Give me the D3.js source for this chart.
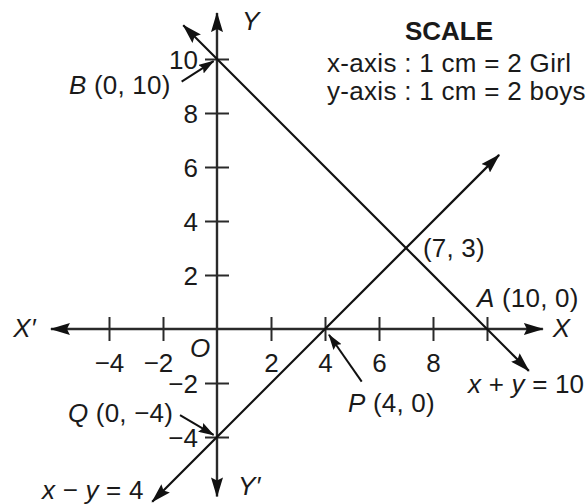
<!DOCTYPE html>
<html>
<head>
  <meta charset="utf-8" />
  <title>x + y = 10 and x - y = 4</title>
  <style>
    body { margin: 0; background: #fff; }
    #chartArea { width: 587px; height: 504px; }
    text { font-family: "Liberation Sans", Arial, sans-serif; fill: #1a1a1a; }
    .axisLine { stroke: #2a2a2a; stroke-width: 2.4px; fill: none; }
    .graphLine { stroke: #111; stroke-width: 2.2px; fill: none; }
    .pointer { stroke: #111; stroke-width: 2px; fill: none; }
  </style>
  <script src="https://cdnjs.cloudflare.com/ajax/libs/d3/7.8.5/d3.min.js"></script>
</head>
<body>
  <div id="chartArea"></div>
  <script>
    // values
    var xTicks = [-4, -2, 2, 4, 6, 8, 10];
    var xTickLabels = ['\u22124', '\u22122', '2', '4', '6', '8', ''];
    var yTicks = [-4, -2, 2, 4, 6, 8, 10];
    var yTickLabels = ['\u22124', '\u22122', '2', '4', '6', '8', '10'];
    var xAxisEnds = [-6.15, 12.07];
    var yAxisEnds = [-6.2, 11.7];
    // the two lines, as their drawn end points
    var sumLine = [[-1.25, 11.25], [11.55, -1.55]];   // x + y = 10
    var diffLine = [[-2.4, -6.4], [10.45, 6.45]];     // x - y = 4
    var scaleText = ['x-axis : 1 cm = 2 Girl', 'y-axis : 1 cm = 2 boys'];

    var w = 587, h = 504;

    var svg = d3.select('#chartArea').append('svg')
      .attr('width', w)
      .attr('height', h);

    // 1 unit = 27px, origin at (217, 329)
    var xScale = d3.scaleLinear()
      .domain([-8.037, 13.704])
      .range([0, w]);
    var yScale = d3.scaleLinear()
      .domain([12.185, -6.481])
      .range([0, h]);

    var defs = svg.append('defs');
    function marker(id, len, wid) {
      defs.append('marker')
        .attr('id', id)
        .attr('viewBox', '0 0 ' + len + ' ' + wid)
        .attr('refX', len - 1)
        .attr('refY', wid / 2)
        .attr('markerWidth', len)
        .attr('markerHeight', wid)
        .attr('markerUnits', 'userSpaceOnUse')
        .attr('orient', 'auto-start-reverse')
        .append('path')
        .attr('d', 'M0,0 L' + len + ',' + wid / 2 + ' L0,' + wid + ' L' + len * 0.15 + ',' + wid / 2 + ' Z')
        .attr('fill', '#111');
    }
    marker('big', 20, 12);
    marker('small', 16, 10);

    // ticks
    var xAxis = d3.axisBottom(xScale)
      .tickValues(xTicks)
      .tickSize(12)
      .tickFormat((d, i) => xTickLabels[i]);
    var gx = svg.append('g')
      .attr('transform', 'translate(0,' + yScale(0) + ')')
      .call(xAxis);
    gx.select('.domain').remove();
    gx.selectAll('.tick line')
      .attr('y1', -12).attr('y2', 12)
      .attr('stroke', '#2a2a2a').attr('stroke-width', 2);
    gx.selectAll('.tick text')
      .attr('y', 43).attr('dy', 0)
      .attr('dx', d => d === -2 ? -5 : 0)
      .attr('font-size', 26)
      .attr('font-family', null)
      .attr('fill', '#1a1a1a');

    var yAxis = d3.axisLeft(yScale)
      .tickValues(yTicks)
      .tickSize(12)
      .tickFormat((d, i) => yTickLabels[i]);
    var gy = svg.append('g')
      .attr('transform', 'translate(' + xScale(0) + ',0)')
      .call(yAxis);
    gy.select('.domain').remove();
    gy.selectAll('.tick line')
      .attr('x1', -12).attr('x2', 12)
      .attr('stroke', '#2a2a2a').attr('stroke-width', 2);
    gy.selectAll('.tick text')
      .attr('x', -19).attr('dy', '0.36em')
      .attr('font-size', 26)
      .attr('font-family', null)
      .attr('fill', '#1a1a1a');
    gx.attr('font-family', null);
    gy.attr('font-family', null);

    // axes with arrows on both ends
    svg.append('line')
      .attr('class', 'axisLine')
      .attr('x1', xScale(xAxisEnds[0])).attr('x2', xScale(xAxisEnds[1]))
      .attr('y1', yScale(0)).attr('y2', yScale(0))
      .attr('marker-start', 'url(#big)')
      .attr('marker-end', 'url(#big)');
    svg.append('line')
      .attr('class', 'axisLine')
      .attr('x1', xScale(0)).attr('x2', xScale(0))
      .attr('y1', yScale(yAxisEnds[1])).attr('y2', yScale(yAxisEnds[0]))
      .attr('marker-start', 'url(#big)')
      .attr('marker-end', 'url(#big)');

    // the graph lines
    var lineGen = d3.line()
      .x(d => xScale(d[0]))
      .y(d => yScale(d[1]));
    svg.selectAll('path.graphLine')
      .data([sumLine, diffLine])
      .enter()
      .append('path')
      .attr('class', 'graphLine')
      .attr('d', lineGen)
      .attr('marker-start', 'url(#big)')
      .attr('marker-end', 'url(#big)');

    // small pointer arrows: from a spot near the label to the point
    var pointers = [
      { from: [-1.31, 9.16], to: [0, 10], gap: 4 },
      { from: [5.36, -1.95], to: [4, 0], gap: 7 },
      { from: [-1.37, -3.19], to: [0, -4], gap: 4 }
    ];
    pointers.forEach(function (p) {
      var x1 = xScale(p.from[0]), y1 = yScale(p.from[1]);
      var x2 = xScale(p.to[0]), y2 = yScale(p.to[1]);
      var len = Math.hypot(x2 - x1, y2 - y1);
      var k = (len - p.gap) / len;
      svg.append('line')
        .attr('class', 'pointer')
        .attr('x1', x1).attr('y1', y1)
        .attr('x2', x1 + (x2 - x1) * k).attr('y2', y1 + (y2 - y1) * k)
        .attr('marker-end', 'url(#small)');
    });

    // labels: [text, italic?] parts, placed at (left, baseline) in data units
    var labels = [
      { at: [-5.48, 8.70], parts: [['B', 1], [' (0, 10)', 0]] },
      { at: [7.63, 2.67], parts: [['(7, 3)', 0]] },
      { at: [9.63, 0.81], parts: [['A', 1], [' (10, 0)', 0]] },
      { at: [9.30, -2.37], parts: [['x', 1], [' + ', 0], ['y', 1], [' = 10', 0]] },
      { at: [4.85, -3.07], parts: [['P', 1], [' (4, 0)', 0]] },
      { at: [-5.52, -3.43], parts: [['Q', 1], [' (0, \u22124)', 0]] },
      { at: [-6.48, -6.30], parts: [['x', 1], [' \u2212 ', 0], ['y', 1], [' = 4', 0]] },
      { at: [-7.55, -0.30], parts: [['X\u2032', 1]] },
      { at: [12.44, -0.30], parts: [['X', 1]] },
      { at: [0.93, 11.07], parts: [['Y', 1]] },
      { at: [0.78, -6.15], parts: [['Y\u2032', 1]] },
      { at: [-1.0, -1.04], parts: [['O', 1]] }
    ];
    labels.forEach(function (l) {
      var t = svg.append('text')
        .attr('x', xScale(l.at[0]))
        .attr('y', yScale(l.at[1]))
        .attr('font-size', 26)
        .attr('letter-spacing', 0.2);
      l.parts.forEach(function (p) {
        t.append('tspan')
          .attr('font-style', p[1] ? 'italic' : 'normal')
          .text(p[0]);
      });
    });

    // scale note
    svg.append('text')
      .attr('x', 449)
      .attr('y', 40)
      .attr('text-anchor', 'middle')
      .attr('font-size', 26)
      .attr('font-weight', 'bold')
      .text('SCALE');
    svg.selectAll('text.scaleLine')
      .data(scaleText)
      .enter()
      .append('text')
      .attr('class', 'scaleLine')
      .attr('x', 327)
      .attr('y', (d, i) => 72 + i * 27.5)
      .attr('font-size', 26)
      .attr('letter-spacing', 0.3)
      .text(d => d);
  </script>
</body>
</html>
